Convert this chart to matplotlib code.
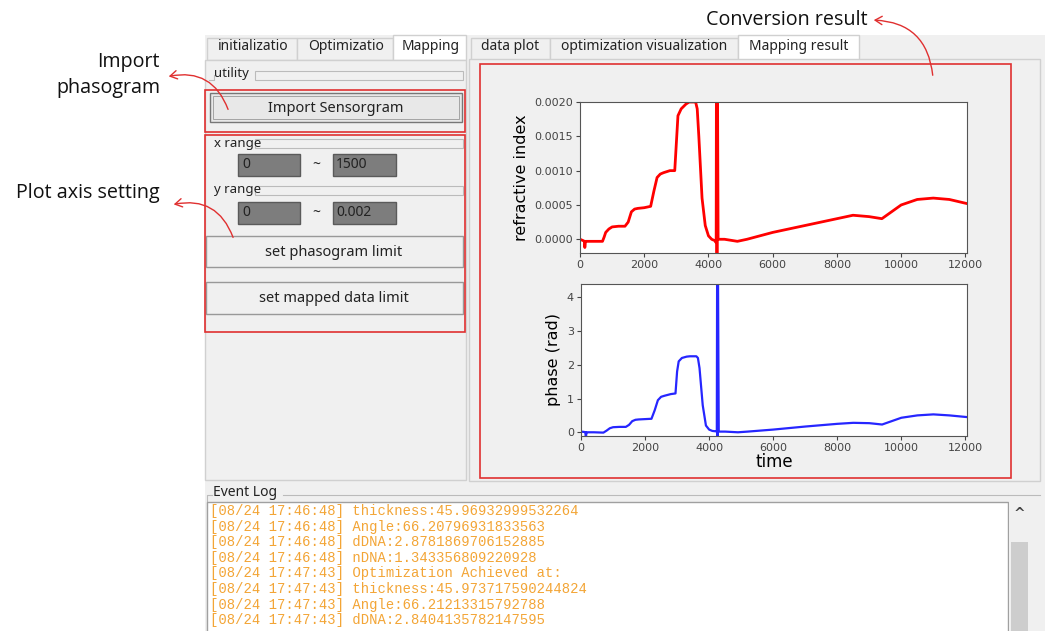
import matplotlib.pyplot as plt
from matplotlib.patches import Rectangle, FancyArrowPatch

# values
time = [0, 100, 140, 150, 170, 200, 400, 700, 750, 800, 900, 1000, 1200, 1400, 1500, 1600, 1700,
        1800, 2000, 2200, 2300, 2400, 2500, 2600, 2800, 2950, 3000, 3050, 3150, 3300, 3400, 3600,
        3650, 3700, 3800, 3900, 4000, 4100, 4200, 4240, 4250, 4265, 4275, 4300, 4500, 4900, 5200,
        6000, 7000, 8000, 8500, 9000, 9400, 9700, 10000, 10500, 11000, 11500, 12050]
refr_index = [0.0, -0.00002, -0.00003, -0.00012, -0.00003, -0.00003, -0.00003, -0.00003, 0.00003,
              0.0001, 0.00015, 0.00018, 0.00019, 0.00019, 0.00025, 0.0004, 0.00044, 0.00045,
              0.00046, 0.00048, 0.0007, 0.0009, 0.00095, 0.00097, 0.001, 0.001, 0.0014, 0.0018,
              0.0019, 0.00197, 0.002, 0.002, 0.0019, 0.0015, 0.0006, 0.0002, 0.00005, 0.0,
              -0.00002, -0.00005, 0.003, -0.0005, 0.003, 0.0, 0.0, -0.00003, 0.0, 0.0001, 0.0002,
              0.0003, 0.00035, 0.00033, 0.0003, 0.0004, 0.0005, 0.00058, 0.0006, 0.00058, 0.00052]
phase = [0.02, 0.01, 0.0, -0.2, 0.0, 0.0, 0.0, -0.01, 0.02, 0.05, 0.12, 0.15, 0.16, 0.16, 0.22,
         0.33, 0.37, 0.38, 0.39, 0.4, 0.65, 0.95, 1.05, 1.08, 1.13, 1.15, 1.8, 2.1, 2.2, 2.24,
         2.25, 2.25, 2.2, 1.9, 0.8, 0.2, 0.08, 0.04, 0.03, 0.02, 5.0, -0.5, 5.0, 0.02, 0.02, 0.0,
         0.02, 0.08, 0.17, 0.25, 0.28, 0.27, 0.23, 0.33, 0.43, 0.5, 0.53, 0.5, 0.45]

left_tabs = ['initializatio', 'Optimizatio', 'Mapping']
right_tabs = ['data plot', 'optimization visualization', 'Mapping result']
log_lines = [
    '[08/24 17:46:48] thickness:45.96932999532264',
    '[08/24 17:46:48] Angle:66.20796931833563',
    '[08/24 17:46:48] dDNA:2.8781869706152885',
    '[08/24 17:46:48] nDNA:1.343356809220928',
    '[08/24 17:47:43] Optimization Achieved at:',
    '[08/24 17:47:43] thickness:45.973717590244824',
    '[08/24 17:47:43] Angle:66.21213315792788',
    '[08/24 17:47:43] dDNA:2.8404135782147595',
]

W, H = 1045, 631
GUI = '#f0f0f0'
EDGE = '#d0d0d0'
RED = '#e03030'
UI_FONT = 'Noto Sans'

fig = plt.figure(figsize=(W / 100, H / 100), dpi=100, facecolor='white')
bg = fig.add_axes([0, 0, 1, 1])
bg.set_xlim(0, W)
bg.set_ylim(H, 0)
bg.axis('off')


def box(x0, y0, x1, y1, fc='none', ec=EDGE, lw=1.0, z=1):
    bg.add_patch(Rectangle((x0, y0), x1 - x0, y1 - y0, facecolor=fc, edgecolor=ec, lw=lw, zorder=z))


def label(x, y, s, size=9, ha='left', color='#222222', **kw):
    bg.text(x, y, s, fontsize=size, ha=ha, va='center', color=color, family=UI_FONT, **kw)


# window background
box(205, 35, 1045, 631, fc=GUI, ec='none', z=0)

# left tab widget
tab_x = [207, 297, 393, 466]
for i, name in enumerate(left_tabs):
    sel = i == 2
    box(tab_x[i], 35 if sel else 38, tab_x[i + 1], 60, fc='white' if sel else GUI, ec=EDGE)
    label((tab_x[i] + tab_x[i + 1]) / 2 + 1, 47, name, size=10, ha='center')
box(205, 60, 466, 480, fc=GUI, ec=EDGE)

# right tab widget
tab_x = [471, 550, 738, 859]
for i, name in enumerate(right_tabs):
    sel = i == 2
    box(tab_x[i], 35 if sel else 38, tab_x[i + 1], 60, fc='white' if sel else GUI, ec=EDGE)
    label((tab_x[i] + tab_x[i + 1]) / 2, 47, name, size=10, ha='center')
box(469, 59, 1040, 481, fc=GUI, ec=EDGE)

# utility group
bg.plot([209, 214, 214], [80, 80, 75], color='#bbbbbb', lw=0.8)
box(255, 71, 463, 80, fc='none', ec='#bbbbbb', lw=0.8)
label(214, 74, 'utility', size=9.5)
box(210, 93, 462, 122, fc='#e8e8e8', ec='#777777', lw=1.0, z=2)
box(213, 96, 459, 119, fc='none', ec='#999999', lw=0.6, z=2)
label(336, 108, 'Import Sensorgram', size=10.5, ha='center', zorder=3)

# axis range inputs
for yl, y0, txt in [(143, 165, '1500'), (190, 213, '0.002')]:
    box(255, yl - 4, 463, yl + 5, fc='none', ec='#bbbbbb', lw=0.8)
    label(214, yl, 'x range' if yl == 143 else 'y range', size=9.5)
    box(238, y0 - 11, 300, y0 + 11, fc='#7d7d7d', ec='#5a5a5a', z=2)
    box(333, y0 - 11, 396, y0 + 11, fc='#7d7d7d', ec='#5a5a5a', z=2)
    label(242, y0, '0', size=10, zorder=3)
    label(336, y0, txt, size=10, zorder=3)
    label(316, y0, '~', size=10, ha='center')

box(206, 236, 463, 267, fc=GUI, ec='#999999', z=2)
label(334, 252, 'set phasogram limit', size=10.5, ha='center', zorder=3)
box(206, 282, 463, 314, fc=GUI, ec='#999999', z=2)
label(334, 298, 'set mapped data limit', size=10.5, ha='center', zorder=3)

# event log
bg.plot([207, 207, 212], [631, 495, 495], color='#bbbbbb', lw=0.8)
bg.plot([283, 1040], [495, 495], color='#bbbbbb', lw=0.8)
label(213, 493, 'Event Log', size=10)
box(207, 502, 1008, 640, fc='white', ec='#a0a0a0', z=2)
box(1009, 502, 1040, 640, fc=GUI, ec='none', z=2)
box(1011, 542, 1028, 640, fc='#cdcdcd', ec='none', z=3)
bg.text(1019, 514, '^', fontsize=10, ha='center', va='center', color='#444444', fontweight='bold', zorder=3)
for i, line in enumerate(log_lines):
    bg.text(210, 511 + i * 15.6, line, fontsize=10, family='Liberation Mono', color='#f3a536',
            va='center', ha='left', zorder=3)

# red highlight boxes
box(205, 90, 465, 132, ec=RED, lw=1.2, z=4)
box(205, 135, 465, 332, ec=RED, lw=1.2, z=4)
box(480, 64, 1011, 478, ec=RED, lw=1.2, z=4)

# callouts
for x, y, s, ha in [(160, 62, 'Import', 'right'), (160, 88, 'phasogram', 'right'),
                    (160, 193, 'Plot axis setting', 'right'), (706, 20, 'Conversion result', 'left')]:
    bg.text(x, y, s, fontsize=14.2, ha=ha, va='center', family='Open Sans', color='#111111')
for (x0, y0), (x1, y1), rad in [((229, 112), (166, 77), 0.45), ((234, 240), (171, 205), 0.45),
                                  ((933, 78), (871, 20), 0.45)]:
    bg.add_patch(FancyArrowPatch((x0, y0), (x1, y1), connectionstyle=f'arc3,rad={rad}',
                                 arrowstyle='->,head_length=5,head_width=3', color=RED, lw=1.0, zorder=5))

# embedded plots
def px_axes(x0, y0, x1, y1):
    return fig.add_axes([x0 / W, 1 - y1 / H, (x1 - x0) / W, (y1 - y0) / H])


ax1 = px_axes(580, 102, 967, 253)
ax1.plot(time, refr_index, color='red', lw=2)
ax1.set_xlim(0, 12050)
ax1.set_ylim(-0.0002, 0.002)
ax1.set_yticks([0.0, 0.0005, 0.001, 0.0015, 0.002])
ax1.set_yticklabels(['0.0000', '0.0005', '0.0010', '0.0015', '0.0020'])
ax1.set_ylabel('refractive index', fontsize=11.5)

ax2 = px_axes(581, 284, 967, 436)
ax2.plot(time, phase, color='blue', lw=1.6, alpha=0.85)
ax2.set_xlim(0, 12050)
ax2.set_ylim(-0.11, 4.39)
ax2.set_yticks([0, 1, 2, 3, 4])
ax2.set_ylabel('phase (rad)', fontsize=11.5)
ax2.set_xlabel('time', fontsize=12, labelpad=0)

for ax in (ax1, ax2):
    ax.set_xticks([0, 2000, 4000, 6000, 8000, 10000, 12000])
    ax.tick_params(labelsize=8, colors='#444444', length=3, pad=2)
    for s in ax.spines.values():
        s.set_color('#555555')

fig.savefig('out.png', dpi=100, facecolor='white')
